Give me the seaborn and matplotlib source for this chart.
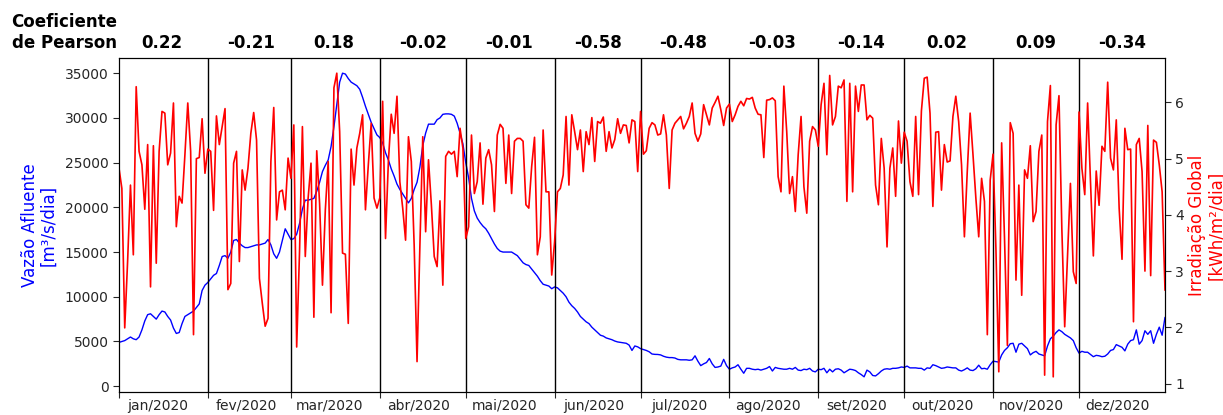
import numpy as np
import pandas as pd
import matplotlib
matplotlib.use("Agg")
import matplotlib.pyplot as plt
import matplotlib.transforms as mtransforms
import seaborn as sns

# ---------------- data ----------------
meses = ["jan/2020", "fev/2020", "mar/2020", "abr/2020", "mai/2020", "jun/2020",
         "jul/2020", "ago/2020", "set/2020", "out/2020", "nov/2020", "dez/2020"]
pearson = ["0.22", "-0.21", "0.18", "-0.02", "-0.01", "-0.58",
           "-0.48", "-0.03", "-0.14", "0.02", "0.09", "-0.34"]

vazao = [
    # jan
    4900, 5000, 5100, 5300, 5500, 5300, 5200, 5500, 6300, 7300, 8000, 8100, 7800, 7500, 8000, 8400,
    8300, 7800, 7400, 6500, 5900, 6000, 7000, 7800, 8000, 8200, 8400, 8800, 9200, 10700, 11300,
    # fev
    11600, 12000, 12400, 12600, 13500, 14500, 14600, 14300, 15000, 16300, 16400, 16000, 15700, 15500,
    15500, 15600, 15700, 15800, 15800, 15900, 16000, 16400, 15800, 14800, 14300, 15000, 16300, 17600, 17000,
    # mar
    16400, 16500, 17000, 18200, 19800, 20800, 20800, 20900, 21000, 21800, 22800, 24000, 24700, 25300,
    26800, 29000, 31500, 34000, 35000, 34900, 34400, 34000, 33800, 33600, 33200, 32300, 31300, 30400,
    29500, 28800, 28100,
    # abr
    27800, 27200, 26100, 25300, 24300, 23500, 22600, 22000, 21500, 21000, 20500, 21000, 22000, 22800,
    24500, 26900, 28300, 29300, 29300, 29300, 29800, 30000, 30400, 30450, 30450, 30400, 30200, 29400,
    28300, 27100,
    # mai
    25000, 23300, 21000, 19600, 18800, 18300, 17900, 17600, 17100, 16500, 15900, 15400, 15100, 15000,
    15000, 15000, 15000, 14800, 14600, 14200, 13800, 13600, 13500, 13100, 12700, 12300, 11800, 11400,
    11300, 11200, 10900,
    # jun
    11100, 11000, 10700, 10400, 10000, 9400, 9000, 8700, 8300, 7800, 7500, 7200, 7000, 6600, 6300,
    6000, 5700, 5600, 5400, 5300, 5200, 5050, 4950, 4900, 4850, 4800, 4600, 4000, 4500, 4400,
    # jul
    4200, 4100, 4000, 3850, 3600, 3560, 3550, 3500, 3350, 3250, 3200, 3200, 3150, 3000, 2950, 2950,
    2950, 2900, 2950, 3400, 2800, 2300, 2500, 2650, 3100, 2500, 2100, 2150, 2250, 3000, 2300,
    # ago
    1900, 2050, 2150, 2400, 1900, 1450, 2000, 2000, 1900, 1850, 1900, 1800, 1900, 2000, 2200, 1700,
    2100, 2000, 1950, 1900, 1900, 2000, 1900, 2100, 1800, 1750, 1900, 1850, 2000, 1700, 1600,
    # set
    1900, 1850, 2000, 1500, 1900, 1600, 1900, 1950, 1800, 1500, 1700, 1900, 1850, 1750, 1500, 1300,
    1050, 1800, 1600, 1200, 1150, 1400, 1700, 1900, 1950, 1900, 2000, 2000, 2050, 2150,
    # out
    2100, 2250, 2050, 2050, 2050, 2000, 2000, 1800, 2050, 2000, 2400, 2300, 2150, 2000, 2050, 2150,
    2100, 2050, 2050, 1800, 1700, 1850, 2050, 1800, 1750, 1950, 2350, 1950, 2000, 1900, 2400,
    # nov
    2800, 2750, 2700, 3500, 4000, 4300, 4750, 4800, 3800, 4700, 4800, 4500, 4200, 3500, 3750, 3900,
    3600, 3500, 3400, 4500, 5300, 5600, 6000, 6300, 6100, 5800, 5600, 5400, 5100, 4300,
    # dez
    3700, 3900, 3800, 3800, 3550, 3300, 3450, 3400, 3300, 3350, 3600, 4000, 4100, 4650, 4500, 4350,
    3950, 4700, 5100, 5200, 6300, 4700, 5100, 6200, 5800, 6200, 4800, 5800, 6600, 5700, 7700,
]

irradiacao = [
    # jan
    4.83, 4.47, 1.99, 3.17, 4.53, 3.29, 6.28, 5.13, 4.89, 4.10, 5.25, 2.72, 5.23, 3.14, 5.13, 5.84,
    5.81, 4.89, 5.10, 5.99, 3.79, 4.33, 4.21, 5.07, 5.99, 5.13, 1.87, 5.00, 5.02, 5.71, 4.74,
    # fev
    5.17, 5.13, 4.08, 5.76, 5.25, 5.57, 5.89, 2.67, 2.78, 4.92, 5.13, 3.17, 4.80, 4.44, 4.83, 5.45,
    5.82, 5.33, 2.87, 2.43, 2.02, 2.16, 4.95, 5.91, 3.91, 4.41, 4.44, 4.09, 5.01,
    # mar
    4.65, 5.60, 1.65, 3.35, 5.57, 3.26, 4.30, 4.92, 2.18, 5.14, 4.20, 2.75, 4.09, 4.95, 2.26, 6.26,
    6.52, 5.48, 3.32, 3.30, 2.07, 5.17, 4.53, 5.19, 5.45, 5.78, 4.09, 4.89, 5.63, 4.30, 4.12,
    # abr
    4.30, 6.02, 3.58, 4.95, 5.79, 5.45, 6.11, 4.59, 4.12, 3.55, 5.39, 4.95, 3.46, 1.39, 3.46, 5.39,
    3.70, 4.98, 4.18, 3.26, 3.08, 4.25, 2.75, 5.04, 5.13, 5.08, 5.13, 4.68, 5.54, 5.19,
    # mai
    3.58, 3.79, 5.42, 4.38, 4.59, 5.28, 4.19, 5.01, 5.16, 4.89, 4.06, 5.42, 5.61, 5.54, 4.56, 5.42,
    4.38, 5.31, 5.36, 5.36, 5.31, 4.18, 4.12, 4.86, 5.38, 3.29, 3.61, 5.51, 4.41, 4.41, 2.93,
    # jun
    3.52, 4.41, 4.47, 4.71, 5.75, 4.53, 5.78, 5.48, 5.16, 5.51, 4.77, 5.48, 5.25, 5.73, 4.95, 5.66,
    5.63, 5.74, 5.13, 5.48, 5.19, 5.34, 5.71, 5.45, 5.60, 5.59, 5.28, 5.69, 5.66, 4.77,
    # jul
    5.84, 5.08, 5.14, 5.54, 5.64, 5.60, 5.42, 5.44, 5.78, 5.42, 4.47, 5.51, 5.63, 5.69, 5.75, 5.53,
    5.63, 5.75, 5.99, 5.45, 5.31, 5.44, 5.96, 5.78, 5.60, 5.90, 6.00, 6.11, 5.87, 5.59, 5.90,
    # ago
    5.97, 5.66, 5.78, 5.93, 6.02, 5.94, 6.07, 6.06, 6.09, 5.90, 5.79, 5.78, 5.02, 6.04, 6.05, 6.08,
    6.03, 4.68, 4.41, 6.29, 5.48, 4.38, 4.68, 4.06, 5.07, 5.75, 4.50, 4.03, 5.31, 5.57, 5.51,
    # set
    5.22, 5.96, 6.34, 5.07, 6.48, 5.60, 5.75, 6.29, 6.26, 6.40, 4.24, 6.34, 4.41, 6.29, 5.84, 6.31,
    6.31, 5.69, 5.77, 5.72, 4.53, 4.18, 5.36, 4.83, 3.43, 4.83, 5.19, 4.33, 5.67, 4.92,
    # out
    5.47, 5.31, 4.59, 4.33, 5.75, 4.36, 5.85, 6.43, 6.45, 5.81, 4.15, 5.47, 5.48, 4.44, 5.25, 4.94,
    4.96, 5.75, 6.11, 5.66, 4.89, 3.61, 4.77, 5.81, 5.07, 4.30, 3.61, 4.65, 4.24, 1.87, 4.62,
    # nov
    5.08, 3.40, 1.21, 5.28, 3.58, 1.68, 5.64, 5.45, 2.84, 4.53, 2.57, 4.80, 4.65, 5.23, 3.88, 4.06,
    5.13, 5.42, 1.15, 5.66, 6.30, 1.12, 5.60, 6.12, 3.76, 2.01, 3.29, 4.56, 2.99, 2.78,
    # dez
    5.83, 4.83, 4.36, 5.99, 4.59, 3.27, 4.78, 4.17, 5.22, 5.13, 6.36, 5.01, 4.80, 5.69, 4.12, 3.21,
    5.54, 5.16, 5.17, 2.10, 5.25, 5.36, 4.77, 3.00, 5.59, 2.92, 5.33, 5.29, 4.89, 4.41, 2.66,
]

# ---------------- style ----------------
sns.set_style("ticks")
plt.rcParams["font.family"] = ["DejaVu Sans"]

datas = pd.date_range("2020-01-01", periods=len(vazao), freq="D")
df = pd.DataFrame({"data": datas, "vazao": vazao, "irradiacao": irradiacao})

fig = plt.figure(figsize=(12.23, 4.15), dpi=100)
ax = fig.add_axes([119 / 1223, 1 - 392 / 415, (1165 - 119) / 1223, (392 - 58) / 415])

sns.lineplot(data=df, x="data", y="vazao", ax=ax, color="blue", linewidth=1.0)
ax2 = ax.twinx()
sns.lineplot(data=df, x="data", y="irradiacao", ax=ax2, color="red", linewidth=1.2)

ax.set_xlim(datas[0], datas[-1])

inicio_mes = pd.date_range("2020-01-01", "2020-12-31", freq="MS")
for d in inicio_mes[1:]:
    ax.axvline(d, color="black", linewidth=1.0)

ax.set_xticks(inicio_mes)
ax.set_xticklabels([""] * len(inicio_mes))
meio_mes = inicio_mes + pd.Timedelta(days=13.5)
ax.set_xticks(meio_mes, minor=True)
ax.set_xticklabels(meses, minor=True, fontsize=10)
ax.tick_params(axis="x", which="minor", length=0, pad=5)
ax.tick_params(axis="x", which="major", length=4)
ax.tick_params(axis="y", length=4, labelsize=10)
ax2.tick_params(axis="y", length=4, labelsize=10)

ax.set_yticks(np.arange(0, 35001, 5000))
ax2.set_yticks([1, 2, 3, 4, 5, 6])

ax.set_xlabel("")
ax.set_ylabel("Vazão Afluente\n[m³/s/dia]", color="blue", fontsize=12,
              linespacing=1.05, labelpad=5)
ax2.set_ylabel("Irradiação Global\n[kWh/m²/dia]", color="red", fontsize=12,
               linespacing=1.05, labelpad=3)

for s in ax.spines.values():
    s.set_visible(True)
    s.set_color("black")
for s in ax2.spines.values():
    s.set_visible(True)
    s.set_color("black")

# Pearson coefficients above each month
trans = mtransforms.blended_transform_factory(ax.transData, ax.transAxes)
centro_mes = inicio_mes + pd.Timedelta(days=15)
for c, txt in zip(centro_mes, pearson):
    ax.text(c, 1.031, txt, transform=trans, ha="center", va="baseline",
            fontsize=12, fontweight="bold", color="black")
fig.text(117 / 1223, 1 - 47.7 / 415, "Coeficiente\nde Pearson", ha="right", va="baseline",
         fontsize=12, fontweight="bold", color="black")

fig.savefig("out.png", dpi=100)
